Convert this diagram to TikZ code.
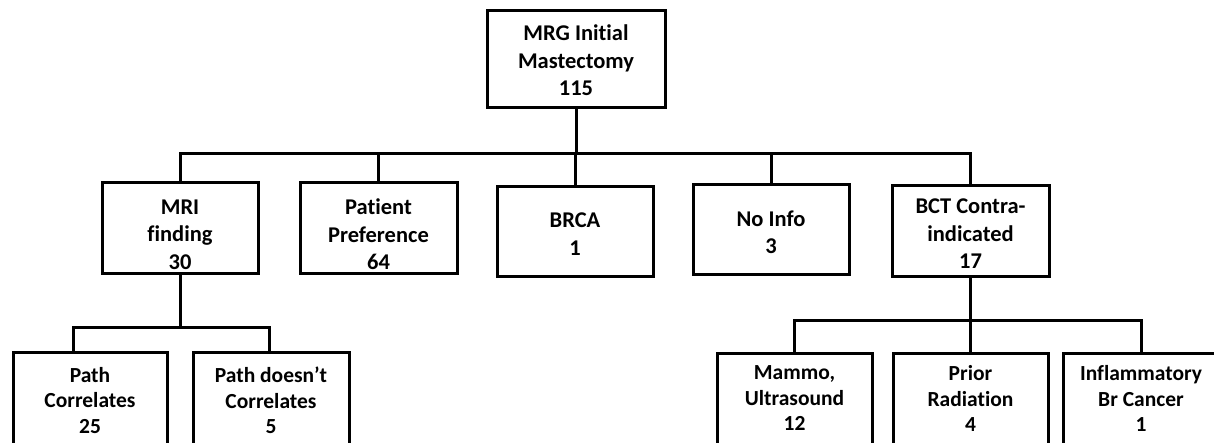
\documentclass[tikz,border=0pt]{standalone}
\usepackage{fontspec}
\setmainfont{Carlito}[Ligatures=NoCommon]
\begin{document}
\begin{tikzpicture}[x=1pt,y=-1pt,
  box/.style={draw=black,line width=3pt,fill=white,inner sep=0pt},
  txt/.style={font=\bfseries\fontsize{22.5}{27.5}\selectfont,align=center,inner sep=0pt},
  txtlow/.style={font=\bfseries\fontsize{21.5}{25.5}\selectfont,align=center,inner sep=0pt},
  conn/.style={draw=black,line width=3pt,line cap=rect}]
\clip (0,0) rectangle (1214,443);
\fill[white] (0,0) rectangle (1214,443);
% level 0
\node[box,minimum width=178pt,minimum height=97pt] (top) at (576,59.5) {};
% level 1
\node[box,minimum width=156pt,minimum height=91pt] (mri) at (180,228.5) {};
\node[box,minimum width=157pt,minimum height=91pt] (pat) at (378.5,228.5) {};
\node[box,minimum width=156pt,minimum height=90pt] (brca) at (575,232) {};
\node[box,minimum width=156pt,minimum height=90pt] (noinfo) at (771,230) {};
\node[box,minimum width=157pt,minimum height=91pt] (bct) at (970.5,231.5) {};
% level 2
\node[box,minimum width=154pt,minimum height=96pt] (pc) at (90,400) {};
\node[box,minimum width=156pt,minimum height=96pt] (pdc) at (271,400) {};
\node[box,minimum width=155pt,minimum height=95pt] (mam) at (794.5,400.5) {};
\node[box,minimum width=155pt,minimum height=95pt] (prior) at (970.5,400.5) {};
\node[box,minimum width=156pt,minimum height=95pt] (inf) at (1141,400.5) {};
% texts
\node[txt] (ttop) at (576,60.5) {MRG Initial\\Mastectomy\\115};
\node[txt] (tmri) at (180,234.5) {MRI\\finding\\30};
\node[txt] (tpat) at (378.5,234.5) {Patient\\Preference\\64};
\node[txt] (tbrca) at (575,234) {BRCA\\1};
\node[txt] (tnoinfo) at (771,232.5) {No Info\\3};
\node[txt] (tbct) at (970.5,234) {BCT Contra-\\indicated\\17};
\node[txtlow] (tpc) at (90,400.5) {Path\\Correlates\\25};
\node[txtlow] (tpdc) at (271,400.5) {Path doesn’t\\Correlates\\5};
\node[txtlow] (tmam) at (794.5,398.5) {Mammo,\\Ultrasound\\12};
\node[txtlow] (tprior) at (970.5,398.5) {Prior\\Radiation\\4};
\node[txtlow] (tinf) at (1141,398.5) {Inflammatory\\Br Cancer\\1};
% bus coordinates
\coordinate (bus1) at (576,154);
\coordinate (bus2) at (180,327.5);
\coordinate (bus3) at (970.5,320.5);
% connectors level 0 -> 1
\draw[conn] (top.south) -- (bus1);
\draw[conn] (mri.north) |- (bus1) -| (bct.north);
\draw[conn] (pat.north) -- (pat.north |- bus1);
\draw[conn] (brca.north) -- (brca.north |- bus1);
\draw[conn] (noinfo.north) -- (noinfo.north |- bus1);
% MRI -> sub
\draw[conn] (mri.south) -- (bus2);
\draw[conn] ([xshift=-17pt]pc.north) |- (bus2) -| ([xshift=-2pt]pdc.north);
% BCT -> sub
\draw[conn] (bct.south) -- (bus3);
\draw[conn] (mam.north) |- (bus3) -| (inf.north);
\draw[conn] (prior.north) -- (prior.north |- bus3);
\end{tikzpicture}
\end{document}
